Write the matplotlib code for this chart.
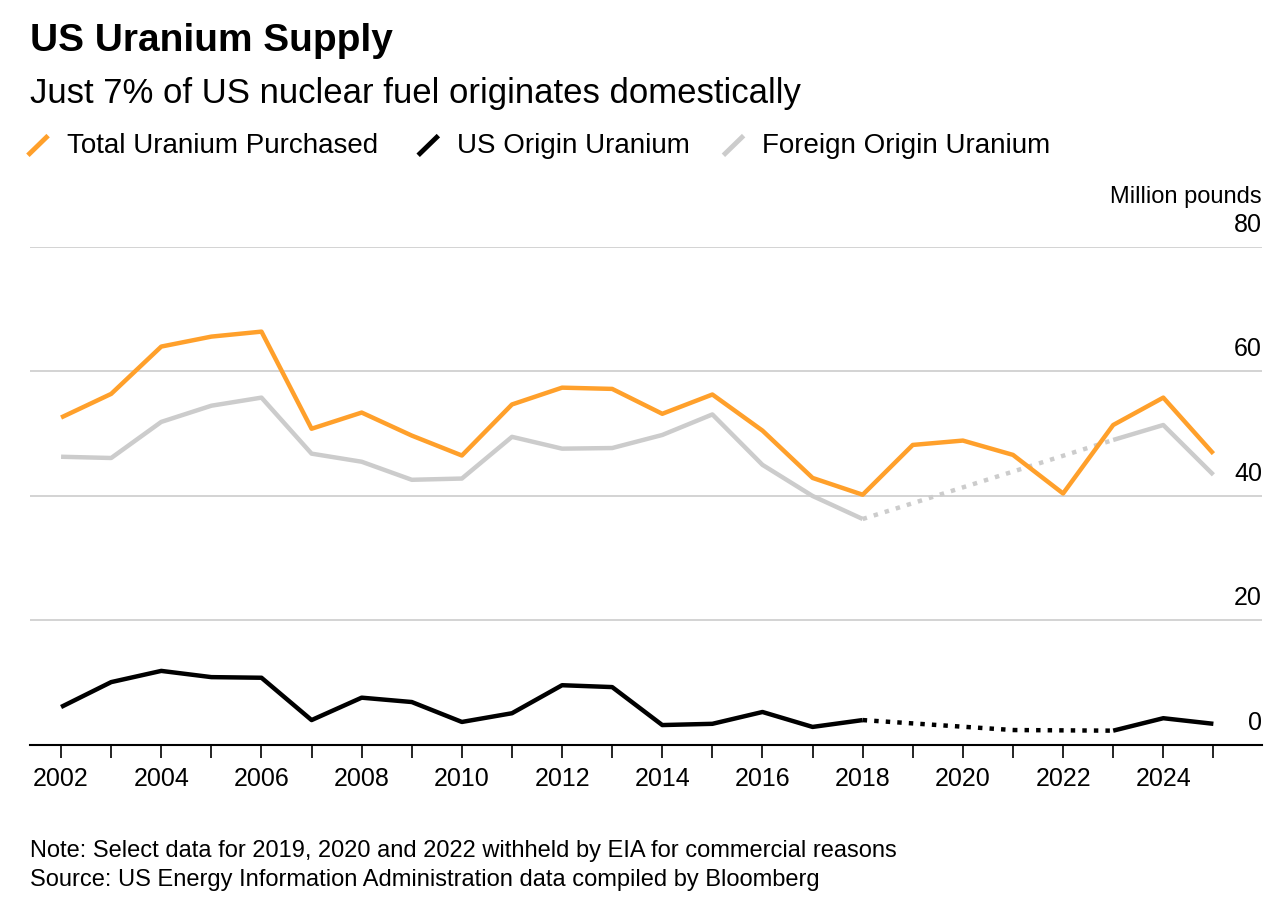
import numpy as np
import matplotlib.pyplot as plt
from matplotlib.lines import Line2D

plt.rcParams["font.family"] = ["Liberation Sans", "DejaVu Sans"]

years = np.arange(2002, 2026)
total = [52.6, 56.4, 64.0, 65.6, 66.4, 50.8, 53.4, 49.7, 46.5, 54.7, 57.4, 57.2,
         53.2, 56.3, 50.5, 42.9, 40.2, 48.2, 48.9, 46.6, 40.4, 51.4, 55.8, 46.8]
foreign = [46.3, 46.1, 51.9, 54.5, 55.8, 46.8, 45.5, 42.6, 42.8, 49.5, 47.6, 47.7,
           49.8, 53.1, 45.0, 40.0, 36.3, np.nan, np.nan, np.nan, np.nan, 49.0, 51.4, 43.4]
us = [6.1, 10.1, 11.9, 10.9, 10.8, 4.0, 7.6, 6.9, 3.7, 5.1, 9.6, 9.3,
      3.2, 3.4, 5.3, 2.9, 4.0, np.nan, np.nan, 2.4, np.nan, 2.3, 4.3, 3.4]

ORANGE, BLACK, GRAY = "#FFA02B", "#000000", "#CCCCCC"

fig = plt.figure(figsize=(12.88, 9.04), dpi=100)
ax = fig.add_axes([0.0233, 0.1748, 0.9565, 0.5509])

def draw(vals, color):
    v = np.array(vals, dtype=float)
    ax.plot(years, v, color=color, lw=3.2, solid_capstyle="butt", zorder=3)
    ok = ~np.isnan(v)
    yy, vv = years[ok], v[ok]
    for i in range(len(yy) - 1):
        if yy[i + 1] - yy[i] > 1:
            ax.plot(yy[i:i + 2], vv[i:i + 2], color=color, lw=3.2,
                    ls=(0, (1, 1.6)), zorder=2)

draw(foreign, GRAY)
draw(us, BLACK)
draw(total, ORANGE)

ax.set_xlim(2001.38, 2025.97)
ax.set_ylim(0, 80)
for s in ["top", "right", "left"]:
    ax.spines[s].set_visible(False)
ax.spines["bottom"].set_linewidth(1.5)
ax.set_yticks([])
for y in [20, 40, 60, 80]:
    ax.axhline(y, color="#CCCCCC", lw=1.2, zorder=1)
for y in [0, 20, 40, 60, 80]:
    ax.text(1.0, y + 1.8, str(y), transform=ax.get_yaxis_transform(),
            ha="right", va="bottom", fontsize=18)
ax.text(1.0, 86.5, "Million pounds", transform=ax.get_yaxis_transform(),
        ha="right", va="bottom", fontsize=17)
ax.set_xticks(years, minor=False)
ax.set_xticklabels([str(y) if y % 2 == 0 else "" for y in years], fontsize=18)
ax.tick_params(axis="x", length=9, width=1.2, pad=6)

fig.text(0.023, 0.955, "US Uranium Supply", fontsize=28, fontweight="bold", va="center")
fig.text(0.023, 0.897, "Just 7% of US nuclear fuel originates domestically", fontsize=25, va="center")

leg = [("Total Uranium Purchased", ORANGE, 0.023), ("US Origin Uranium", BLACK, 0.326),
       ("Foreign Origin Uranium", GRAY, 0.563)]
for lab, c, x in leg:
    fig.add_artist(Line2D([x, x + 0.013], [0.829, 0.847], color=c, lw=3.5,
                          transform=fig.transFigure))
    fig.text(x + 0.029, 0.839, lab, fontsize=20, va="center")

fig.text(0.023, 0.059, "Note: Select data for 2019, 2020 and 2022 withheld by EIA for commercial reasons",
         fontsize=17, va="center")
fig.text(0.023, 0.026, "Source: US Energy Information Administration data compiled by Bloomberg",
         fontsize=17, va="center")

fig.savefig("out.png", dpi=100)
